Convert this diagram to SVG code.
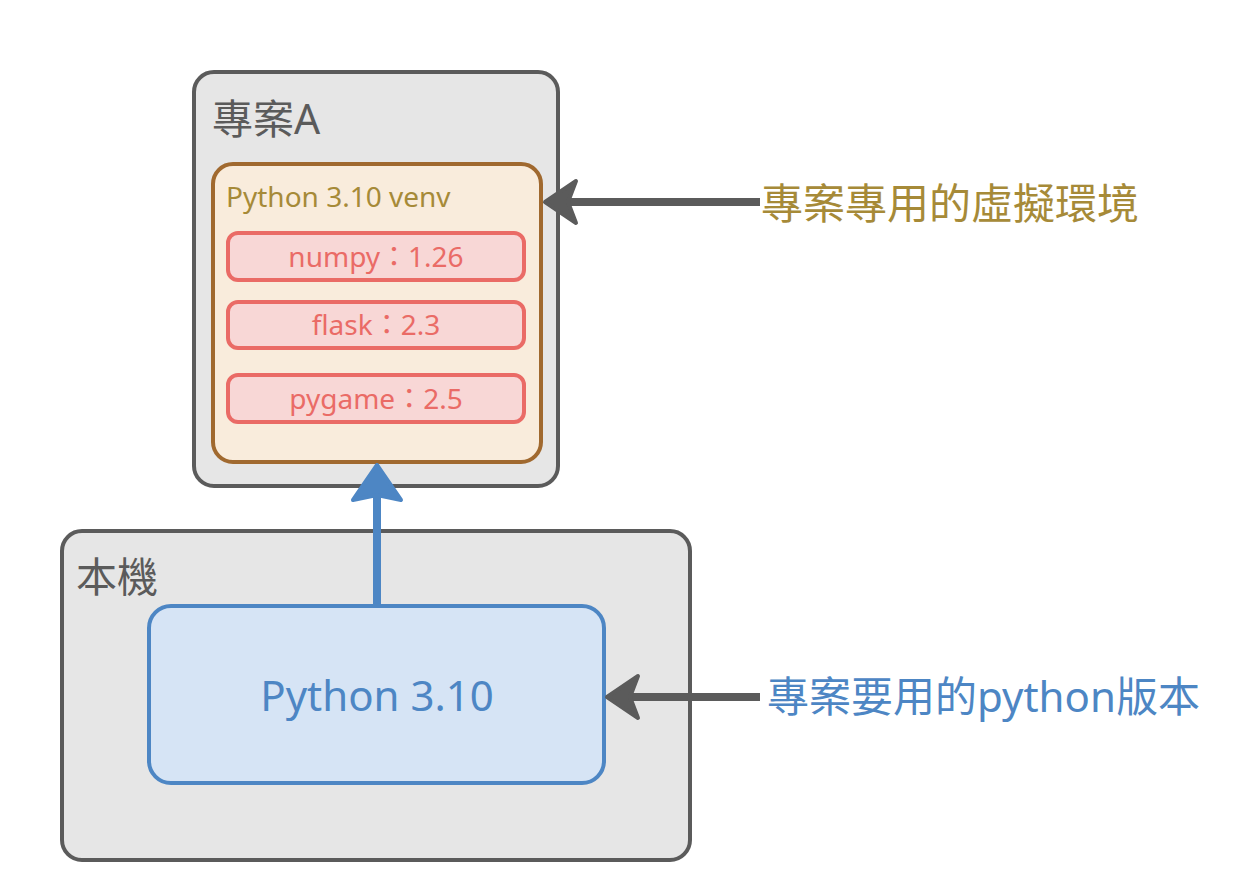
<svg xmlns="http://www.w3.org/2000/svg" width="1260" height="894" viewBox="0 0 1260 894">
<style>
text{font-family:"Noto Sans","Noto Sans CJK TC",sans-serif}
.grp{fill:#e6e6e6;stroke:#5b5b5b;stroke-width:4}
.ttl{fill:#5b5b5b;font-size:41px}
.venv{fill:#f9ecdc;stroke:#a0692f;stroke-width:4}
.pkg{fill:#f8d7d6;stroke:#ea6b66;stroke-width:4}
.pkgt{fill:#ea6b66;font-size:28px;text-anchor:middle}
.py{fill:#d6e4f5;stroke:#4d86c4;stroke-width:4}
.line{stroke-width:8;fill:none}
.head{stroke-width:4;stroke-linejoin:round}
</style>
<rect width="1260" height="894" fill="#ffffff"/>
<g id="projectA">
<rect class="grp" x="194" y="72" width="364" height="414" rx="20"/>
<text class="ttl" x="212" y="134">專案A</text>
</g>
<g id="venv">
<rect class="venv" x="213" y="164" width="328" height="298" rx="20"/>
<text x="226" y="207" fill="#a68a38" font-size="28">Python 3.10 venv</text>
</g>
<g id="numpy">
<rect class="pkg" x="228" y="233" width="296" height="47" rx="10"/>
<text class="pkgt" x="376" y="267">numpy：1.26</text>
</g>
<g id="flask">
<rect class="pkg" x="228" y="302" width="296" height="46" rx="10"/>
<text class="pkgt" x="376" y="335">flask：2.3</text>
</g>
<g id="pygame">
<rect class="pkg" x="228" y="375" width="296" height="47" rx="10"/>
<text class="pkgt" x="376" y="409">pygame：2.5</text>
</g>
<g id="local">
<rect class="grp" x="62" y="531" width="628" height="329" rx="20"/>
<text class="ttl" x="76" y="592">本機</text>
</g>
<g id="python">
<rect class="py" x="149" y="606" width="455" height="177" rx="22"/>
<text x="377" y="711" fill="#4d86c4" font-size="42" text-anchor="middle">Python 3.10</text>
</g>
<g id="label-venv">
<text x="761" y="219" fill="#a68a38" font-size="42">專案專用的虛擬環境</text>
</g>
<g id="label-python">
<text x="767" y="712" fill="#4d86c4" font-size="42">專案要用的python版本</text>
</g>
<g id="connectors">
<path class="line" stroke="#4d86c4" d="M377,606 L377,496"/>
<path class="head" fill="#4d86c4" stroke="#4d86c4" d="M377,465 L401,500 L377,495 L353,500 Z"/>
<path class="line" stroke="#5b5b5b" d="M760,202 L566,202"/>
<path class="head" fill="#5b5b5b" stroke="#5b5b5b" d="M545,202 L576,181 L568,202 L576,223 Z"/>
<path class="line" stroke="#5b5b5b" d="M760,697 L628,697"/>
<path class="head" fill="#5b5b5b" stroke="#5b5b5b" d="M607,697 L638,676 L630,697 L638,718 Z"/>
</g>
</svg>
